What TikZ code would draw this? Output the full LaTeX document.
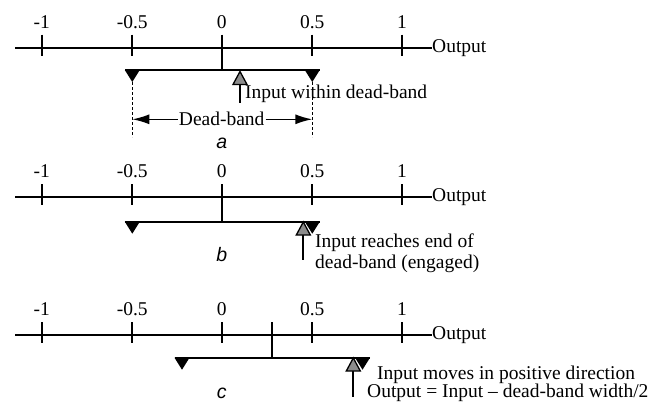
\documentclass[tikz,border=0pt]{standalone}
\usepackage{fontspec}
\setmainfont{Liberation Serif}
\newfontfamily\capfont{Liberation Sans}
\usetikzlibrary{arrows.meta}
\tikzset{
  axisline/.style={line width=2pt},
  tickmark/.style={line width=2pt},
  ticklabel/.style={font=\fontsize{19.5}{22}\selectfont, inner sep=0pt},
  txt/.style={font=\fontsize{19.5}{22}\selectfont, inner sep=0pt, anchor=west},
  caption/.style={font=\capfont\itshape\fontsize{19.5}{22}\selectfont, inner sep=0pt},
  stopfill/.style={fill=black},
  inputfill/.style={fill=black!45, draw=black, line width=1.3pt, line join=miter},
  band/.style={line width=2pt},
  guide/.style={line width=1.6pt, dash pattern=on 3pt off 2pt},
  span/.style={line width=1.5pt, -{Latex[length=17pt,width=10pt]}},
}
% Output axis with tick marks and labels: #1 name prefix, #2 vertical position
\newcommand{\outputaxis}[2]{%
  \coordinate (#1start) at (15,#2);
  \node[txt] (#1out) at (432,#2) {Output};
  \draw[axisline] (#1start) -- (#1out.west);
  \foreach \v/\x/\n in {-1/41.7/m1, -0.5/132.3/mh, 0/221.7/z, 0.5/312.3/ph, 1/402/p1} {
    \draw[tickmark] (\x,#2-13) -- (\x,#2+8);
    \node[ticklabel] (#1\n) at (\x,#2-26) {\v};
  }%
}
% Black end stop of the dead-band (points down): #1 x, #2 y of bar
\newcommand{\bandstop}[2]{%
  \fill[stopfill] (#1-7.5,#2) -- (#1+7.5,#2) -- (#1,#2+12) -- cycle;%
}
% Grey input pointer with its stem: #1 name, #2 x, #3 apex y, #4 stem end y
\newcommand{\inputmark}[4]{%
  \coordinate (#1tip) at (#2,#3);
  \coordinate (#1base) at (#2,#3+13);
  \coordinate (#1foot) at (#2,#4);
  \draw[band] (#1base) -- (#1foot);
  \filldraw[inputfill] (#1tip) -- (#2+7,#3+13) -- (#2-7,#3+13) -- cycle;%
}
\begin{document}
\begin{tikzpicture}[x=1pt,y=-1pt]
\useasboundingbox (0,0) rectangle (660,407);

% ---- a: input within the dead-band ----
\outputaxis{a}{47.7}
\coordinate (abar) at (221.7,70);
\draw[band] (221.7,47.7) -- (abar);
\draw[band] (125,70) -- (320,70);
\bandstop{132.3}{70}
\bandstop{312.3}{70}
\inputmark{ain}{240}{71.5}{103}
\node[txt] (atext) at (245,94) {Input within dead-band};
\coordinate (adl) at (132.3,119.3);
\coordinate (adr) at (312.3,119.3);
\draw[guide] (132.3,82) -- (132.3,137);
\draw[guide] (312.3,82) -- (312.3,137);
\node[font=\fontsize{19.5}{22}\selectfont, inner sep=1pt] (dband) at (221.7,119.3) {Dead-band};
\draw[span] (dband.west) -- (adl);
\draw[span] (dband.east) -- (adr);
\node[caption] (capa) at (221.7,143) {a};

% ---- b: input reaches the end of the dead-band ----
\outputaxis{b}{197.3}
\coordinate (bbar) at (221.7,221.7);
\draw[band] (221.7,197.3) -- (bbar);
\draw[band] (125,221.7) -- (320,221.7);
\bandstop{132.3}{221.7}
\bandstop{312.3}{221.7}
\inputmark{bin}{303.3}{222}{260}
\node[txt] (btext1) at (315,243) {Input reaches end of};
\node[txt] (btext2) at (315,264) {dead-band (engaged)};
\node[caption] (capb) at (221.7,255) {b};

% ---- c: input moves in the positive direction ----
\outputaxis{c}{335}
\draw[tickmark] (271.7,335-13) -- (271.7,335+8);
\coordinate (cbar) at (271.7,357.7);
\draw[band] (271.7,335) -- (cbar);
\draw[band] (175,357.7) -- (370,357.7);
\bandstop{182}{357.7}
\bandstop{362.5}{357.7}
\inputmark{cin}{353.3}{358}{397}
\node[txt] (ctext1) at (377,375) {Input moves in positive direction};
\node[txt] (ctext2) at (367,393) {Output = Input -- dead-band width/2};
\node[caption] (capc) at (221.7,393) {c};
\end{tikzpicture}
\end{document}
